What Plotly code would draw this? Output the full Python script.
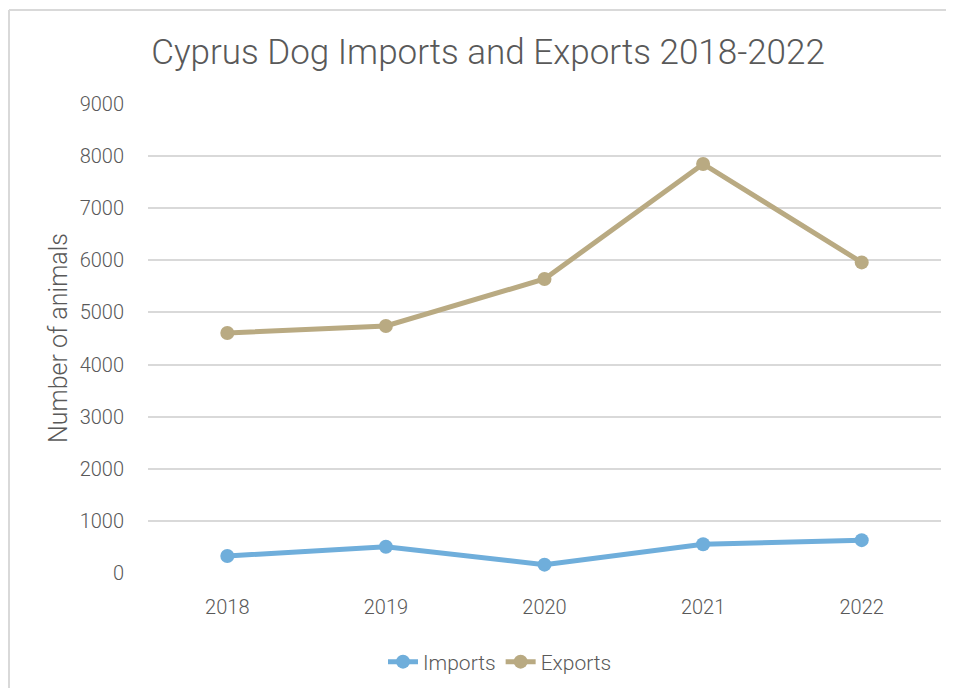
import plotly.graph_objects as go

years = ["2018", "2019", "2020", "2021", "2022"]
imports = [326, 505, 160, 551, 630]
exports = [4606, 4740, 5642, 7849, 5960]
y_ticks = [0, 1000, 2000, 3000, 4000, 5000, 6000, 7000, 8000, 9000]

FONT = "Roboto, sans-serif"
GRAY = "#595959"
OFF = 8  # page body margin
L, R, T, B = 148 - OFF, 941 - OFF, 104 - OFF, 573 - OFF
W, H = 954, 688

fig = go.Figure()
fig.add_trace(go.Scatter(
    x=years, y=imports, name="Imports", mode="lines+markers",
    line=dict(color="#6FAEDB", width=5),
    marker=dict(size=14, color="#6FAEDB"),
))
fig.add_trace(go.Scatter(
    x=years, y=exports, name="Exports", mode="lines+markers",
    line=dict(color="#B9AA82", width=5),
    marker=dict(size=14, color="#B9AA82"),
))

bx = (1 - L) / (R - L)
by = (B - 2) / (B - T)

fig.update_layout(
    width=W, height=H,
    paper_bgcolor="white", plot_bgcolor="white",
    margin=dict(l=L, r=W - R, t=T, b=H - B, autoexpand=False),
    font=dict(family=FONT, color=GRAY, size=20, weight=300),
    title=dict(text="Cyprus Dog Imports and Exports 2018-2022",
               x=(488 - OFF) / W, xanchor="center", y=1 - (52 - OFF) / H, yanchor="middle",
               font=dict(size=35, color=GRAY, family=FONT, weight=300)),
    showlegend=True,
    legend=dict(orientation="h", x=(500 - OFF) / W, xanchor="center", xref="container",
                y=1 - (662 - OFF) / H, yanchor="middle", yref="container",
                font=dict(size=21, color=GRAY, weight=300), traceorder="normal"),
    xaxis=dict(type="category", range=[-0.5, len(years) - 0.5],
               showgrid=False, zeroline=False, showline=False,
               ticks="", ticklabelstandoff=20, automargin=False,
               tickfont=dict(size=20, color=GRAY, weight=300)),
    yaxis=dict(range=[0, 9000], tickvals=y_ticks, showgrid=True, gridcolor="#D9D9D9",
               gridwidth=1.5, zeroline=False, showline=False, ticks="",
               ticklabelstandoff=23, automargin=False,
               tickfont=dict(size=20, color=GRAY, weight=300)),
    annotations=[dict(text="Number of animals", textangle=-90, showarrow=False,
                      xref="paper", yref="paper",
                      x=(58 - OFF - L) / (R - L), y=(B - (338 - OFF)) / (B - T),
                      xanchor="center", yanchor="middle",
                      font=dict(size=25, color=GRAY, family=FONT, weight=300))],
    shapes=[
        dict(type="line", xref="paper", yref="paper", x0=bx, x1=1.5, y0=by, y1=by,
             line=dict(color="#D9D9D9", width=2), layer="below"),
        dict(type="line", xref="paper", yref="paper", x0=bx, x1=bx, y0=-0.5, y1=by,
             line=dict(color="#D9D9D9", width=2), layer="below"),
    ],
)

fig.write_html("out.html")
